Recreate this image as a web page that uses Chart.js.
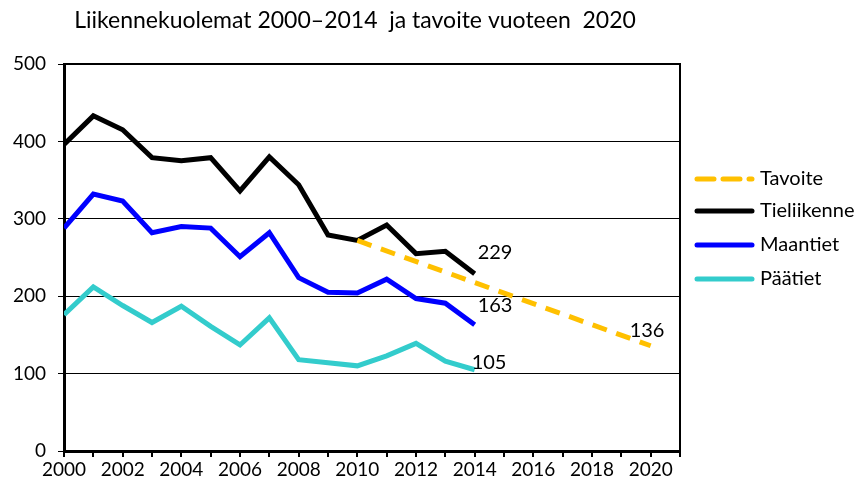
<!DOCTYPE html>
<html>
<head>
<meta charset="utf-8">
<script src="https://cdn.jsdelivr.net/npm/chart.js@4"></script>
<style>
  html, body { margin: 0; padding: 0; background: #fff; }
  #wrap { width: 857px; height: 488px; position: relative; }
</style>
</head>
<body>
<div id="wrap"><canvas id="chart"></canvas></div>
<script>
const years = [2000, 2001, 2002, 2003, 2004, 2005, 2006, 2007, 2008, 2009, 2010, 2011, 2012, 2013, 2014];
const tieliikenne = [396, 433, 415, 379, 375, 379, 336, 380, 344, 279, 272, 292, 255, 258, 229];
const maantiet = [288, 332, 323, 282, 290, 288, 251, 282, 224, 205, 204, 222, 197, 191, 163];
const paatiet = [176, 212, 188, 166, 187, 161, 137, 172, 118, 114, 110, 123, 139, 116, 105];
const tavoiteYears = [2010, 2020];
const tavoite = [272, 136];

const FONT = "Lato, 'Open Sans', sans-serif";

function pts(xs, ys) {
    return xs.map((x, i) => ({ x: x, y: ys[i] }));
}

/* ---------- TITLE, BOX, LABELS, LEGEND ---------- */
const extras = {
    id: "extras",
    afterDraw(c) {
        const ctx = c.ctx;
        const a = c.chartArea;
        const xs = c.scales.x, ys = c.scales.y;
        ctx.save();

        // title
        ctx.fillStyle = "#000";
        ctx.font = "23px " + FONT;
        ctx.textAlign = "center";
        ctx.textBaseline = "middle";
        ctx.fillText("Liikennekuolemat 2000\u20132014  ja tavoite vuoteen  2020", 355, 21);

        // top / right frame
        ctx.strokeStyle = "#000";
        ctx.lineWidth = 2;
        ctx.beginPath();
        ctx.moveTo(a.left, a.top);
        ctx.lineTo(a.right, a.top);
        ctx.lineTo(a.right, a.bottom);
        ctx.stroke();

        // end labels
        ctx.font = "20px " + FONT;
        ctx.textAlign = "left";
        ctx.textBaseline = "middle";
        const lab = (x, y, t, dx, dy) => {
            ctx.fillText(t, xs.getPixelForValue(x) + dx, ys.getPixelForValue(y) + dy);
        };
        lab(2014, 229, String(tieliikenne[14]), 3, -21);
        lab(2014, 163, String(maantiet[14]), 3, -19);
        lab(2014, 105, String(paatiet[14]), -3, -7);
        lab(2020, 136, String(tavoite[1]), -21, -15);

        // legend
        const items = [
            { t: "Tavoite", c: "#FFC000", dash: [17, 9], y: 179 },
            { t: "Tieliikenne", c: "#000000", dash: [], y: 211 },
            { t: "Maantiet", c: "#0000FF", dash: [], y: 245 },
            { t: "P\u00e4\u00e4tiet", c: "#33CCCC", dash: [], y: 279 }
        ];
        items.forEach(it => {
            ctx.strokeStyle = it.c;
            ctx.lineWidth = 5;
            ctx.lineCap = "round";
            ctx.setLineDash(it.dash);
            ctx.beginPath();
            ctx.moveTo(697, it.y);
            ctx.lineTo(752, it.y);
            ctx.stroke();
            ctx.setLineDash([]);
            ctx.fillStyle = "#000";
            ctx.fillText(it.t, 760, it.y);
        });
        ctx.restore();
    }
};

const line = (label, data, color, dash) => ({
    label: label,
    data: data,
    borderColor: color,
    backgroundColor: color,
    borderWidth: 5,
    borderDash: dash || [],
    pointRadius: 0,
    tension: 0,
    fill: false
});

new Chart(document.getElementById("chart"), {
    type: "line",
    data: {
        datasets: [
            line("Tavoite", pts(tavoiteYears, tavoite), "#FFC000", [15, 10]),
            line("Tieliikenne", pts(years, tieliikenne), "#000000"),
            line("Maantiet", pts(years, maantiet), "#0000FF"),
            line("P\u00e4\u00e4tiet", pts(years, paatiet), "#33CCCC")
        ]
    },
    options: {
        responsive: true,
        maintainAspectRatio: false,
        animation: false,
        layout: { padding: { top: 64, right: 177, left: 0, bottom: 0 } },
        plugins: {
            legend: { display: false },
            tooltip: { enabled: false }
        },
        scales: {
            x: {
                type: "linear",
                min: 2000,
                max: 2021,
                afterFit: s => { s.height = 37; },
                ticks: {
                    stepSize: 1,
                    autoSkip: false,
                    maxRotation: 0,
                    color: "#000",
                    font: { family: FONT, size: 19 },
                    padding: 1,
                    callback: v => (v % 2 === 0 && v <= 2020 ? String(v) : "")
                },
                grid: { drawOnChartArea: false, drawTicks: true, tickLength: 6, color: "#000", lineWidth: 2 },
                border: { color: "#000", width: 3 }
            },
            y: {
                min: 0,
                max: 500,
                afterFit: s => { s.width = 64; },
                ticks: {
                    stepSize: 100,
                    color: "#000",
                    font: { family: FONT, size: 19 },
                    padding: 12
                },
                grid: { color: "#000", lineWidth: 1, tickLength: 6 },
                border: { color: "#000", width: 3 }
            }
        }
    },
    plugins: [extras]
});
</script>
</body>
</html>
